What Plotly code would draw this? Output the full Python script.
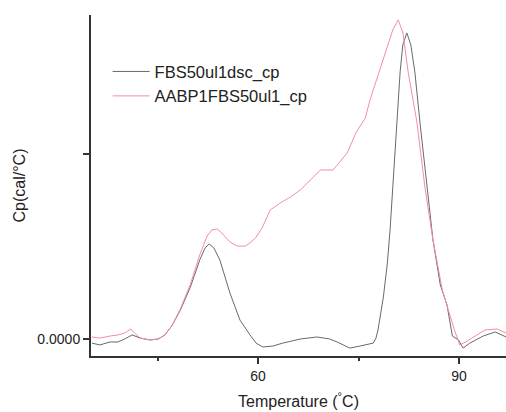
import plotly.graph_objects as go

# DSC thermograms: heat capacity vs temperature
temp_fbs = [35.2, 36.4, 37.9, 39.1, 40.1, 41.2, 42.4, 43.9, 45.1, 46.1, 47.2, 48.4, 49.9,
            51.3, 52.1, 52.7, 53.4, 54.3, 55.8, 57.3, 58.8, 59.7, 60.7, 62.2, 63.7, 66.3,
            68.8, 70.7, 71.8, 73.0, 73.7, 75.2, 77.2, 77.6, 77.9, 78.7, 79.3, 79.7, 80.1,
            80.6, 80.9, 81.2, 81.6, 82.2, 82.8, 83.4, 84.2, 85.1, 86.1, 87.2, 88.2, 89.0,
            89.9, 90.6, 91.6, 93.6, 95.4, 97.0]
cp_fbs = [-0.022, -0.032, -0.016, -0.016, 0.000, 0.022, 0.005, -0.005, 0.000, 0.022, 0.075,
          0.156, 0.280, 0.426, 0.491, 0.512, 0.491, 0.426, 0.248, 0.102, 0.022, -0.022,
          -0.043, -0.038, -0.022, 0.000, 0.011, 0.000, -0.016, -0.038, -0.049, -0.038,
          -0.022, 0.005, 0.049, 0.226, 0.410, 0.588, 0.803, 1.073, 1.235, 1.439, 1.585,
          1.650, 1.585, 1.439, 1.154, 0.857, 0.534, 0.291, 0.183, 0.016, -0.005, -0.049,
          -0.022, 0.016, 0.038, 0.011]

temp_aabp = [35.2, 36.4, 37.9, 39.1, 40.1, 41.0, 41.6, 42.4, 43.9, 45.1, 46.1, 47.2, 48.4,
             49.9, 51.3, 52.4, 53.1, 53.9, 54.6, 55.8, 56.9, 58.1, 58.8, 59.6, 60.6, 61.8,
             63.3, 64.8, 66.3, 67.8, 68.5, 69.3, 71.2, 72.2, 73.3, 74.6, 76.0, 76.7, 77.9,
             79.1, 80.1, 80.9, 81.6, 82.4, 83.7, 84.9, 86.1, 87.5, 88.4, 89.3, 90.1, 91.0,
             92.4, 93.9, 95.7, 97.0]
cp_aabp = [0.011, 0.005, 0.016, 0.022, 0.032, 0.054, 0.032, 0.005, -0.005, 0.000, 0.022,
           0.075, 0.162, 0.296, 0.453, 0.555, 0.588, 0.593, 0.571, 0.523, 0.501, 0.501,
           0.518, 0.544, 0.598, 0.695, 0.733, 0.765, 0.803, 0.857, 0.884, 0.911, 0.911,
           0.954, 1.003, 1.111, 1.191, 1.288, 1.423, 1.558, 1.666, 1.720, 1.655, 1.439,
           1.170, 0.819, 0.534, 0.264, 0.156, 0.049, -0.032, -0.016, 0.016, 0.049, 0.054,
           0.032]

x_ticks = [60, 90]
y_ticks = [0, 1]
y_tick_text = ["0.0000", ""]

fig = go.Figure()
fig.add_trace(go.Scatter(x=temp_fbs, y=cp_fbs, mode="lines", name="FBS50ul1dsc_cp",
                         line=dict(color="rgb(105,105,105)", width=1)))
fig.add_trace(go.Scatter(x=temp_aabp, y=cp_aabp, mode="lines", name="AABP1FBS50ul1_cp",
                         line=dict(color="rgb(245,140,165)", width=1)))

family = "Liberation Sans, Arial, sans-serif"
axis_font = dict(family=family, size=14, color="#222")

fig.update_layout(
    width=506, height=412,
    margin=dict(l=91, r=0, t=15, b=56),
    paper_bgcolor="white", plot_bgcolor="white",
    font=dict(family=family, color="#222"),
    showlegend=True,
    legend=dict(x=0.04, y=0.885, xanchor="left", yanchor="top",
                bgcolor="rgba(0,0,0,0)", font=dict(size=16.5, color="#222"),
                itemwidth=37, tracegroupgap=0),
    xaxis=dict(
        range=[35.07, 97.0], showgrid=False, zeroline=False,
        showline=True, linecolor="#333", linewidth=2,
        tickmode="array", tickvals=x_ticks, ticks="outside", ticklen=6,
        tickcolor="#333", tickwidth=1.5, tickfont=axis_font,
        minor=dict(tickmode="array", tickvals=[45, 75], ticks="outside",
                   ticklen=3, tickcolor="#333", tickwidth=1.5),
        title=dict(text="Temperature (<sup>°</sup>C)", font=dict(size=16, color="#222"),
                   standoff=13),
    ),
    yaxis=dict(
        range=[-0.0916, 1.7466], showgrid=False, zeroline=False,
        showline=True, linecolor="#333", linewidth=2,
        tickmode="array", tickvals=y_ticks, ticktext=y_tick_text,
        ticks="outside", ticklen=6, tickcolor="#333", tickwidth=1.5,
        tickfont=axis_font,
        title=dict(text="Cp(cal/°C)", font=dict(size=16, color="#222"), standoff=8),
    ),
)

fig.write_html("out.html")
